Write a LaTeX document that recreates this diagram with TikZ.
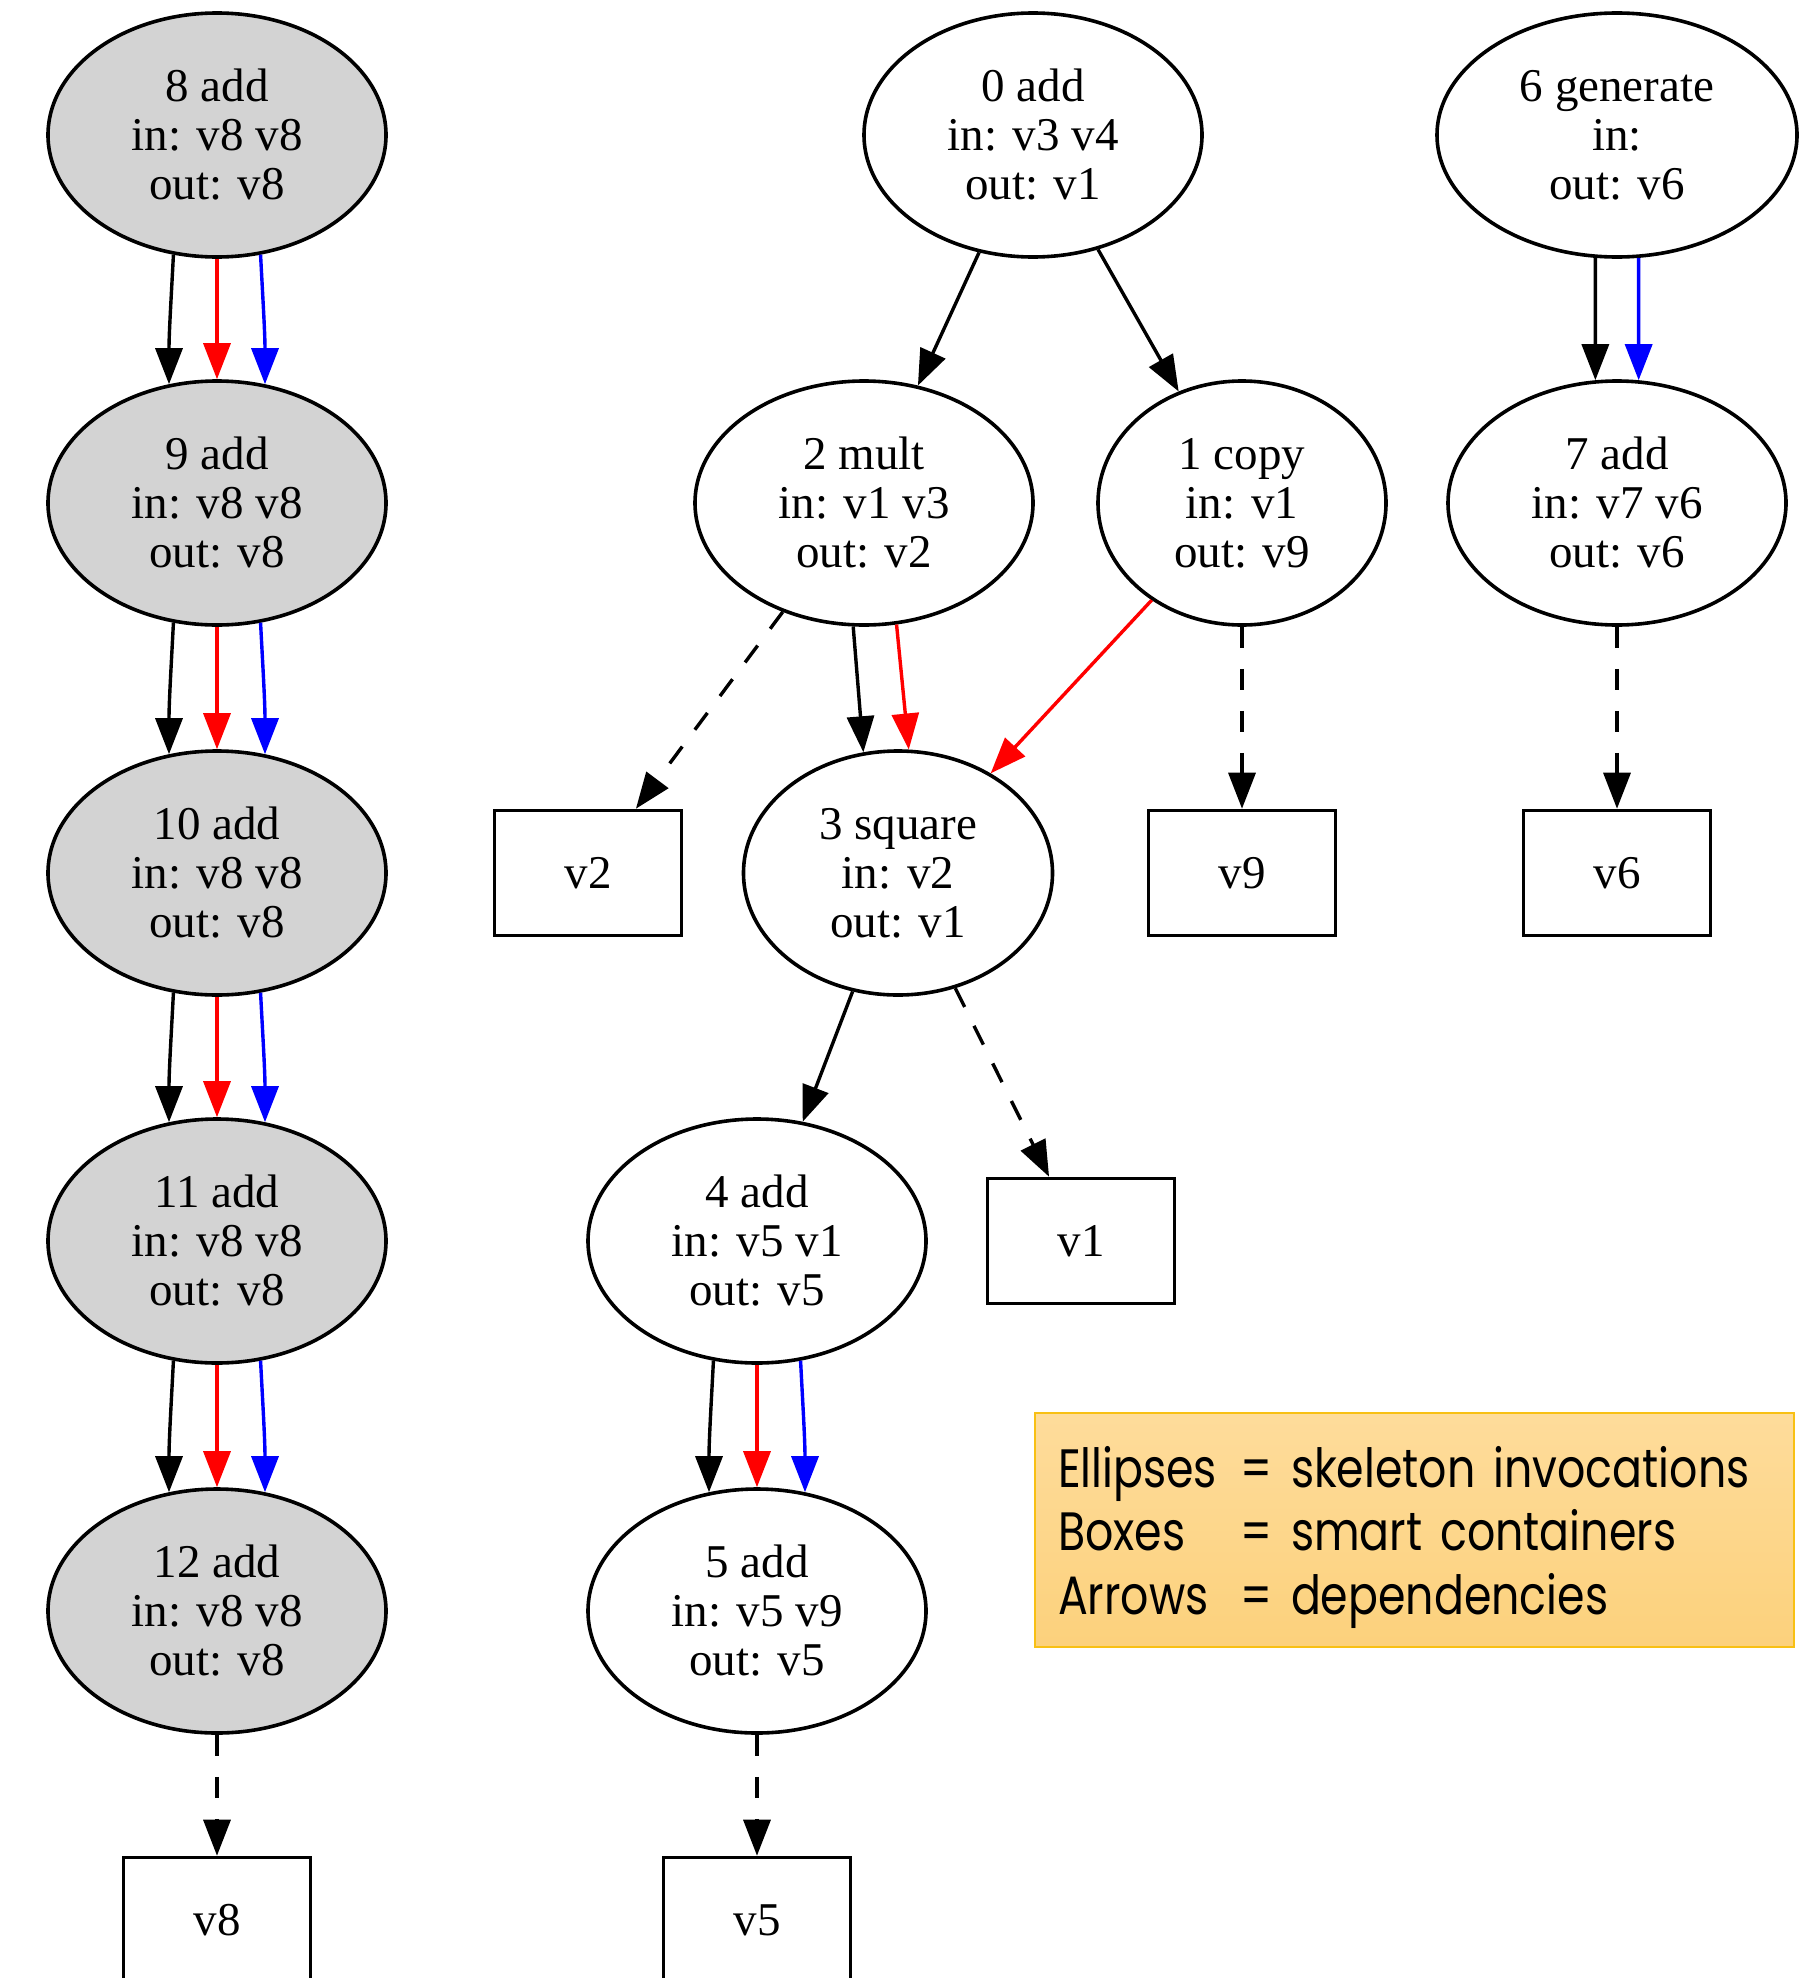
\documentclass[tikz,border=0pt]{standalone}
\usepackage{fontspec}
\setmainfont{Liberation Serif}
\newfontfamily\legendfont[FakeStretch=0.82,WordSpace=0.7]{Poppins}
\usetikzlibrary{shapes.geometric,arrows.meta}
\definecolor{gvgray}{RGB}{211,211,211}
\definecolor{legtop}{RGB}{254,220,155}
\definecolor{legbot}{RGB}{252,209,124}
\definecolor{legline}{RGB}{248,192,20}
\newcommand{\keyword}[1]{\makebox[183pt][l]{#1}}
\tikzset{
  inv/.style={draw,ellipse,line width=3.6pt,inner sep=0pt,minimum width=338pt,minimum height=244pt,align=center,font=\fontsize{47}{49}\selectfont},
  invgray/.style={inv,fill=gvgray},
  cont/.style={draw,rectangle,line width=3.6pt,inner sep=0pt,minimum width=187pt,minimum height=125pt,font=\fontsize{47}{49}\selectfont},
  dep/.style={line width=3.4pt,-{Triangle[length=36pt,width=27pt]}},
  store/.style={dep,dash pattern=on 21pt off 21pt},
  legend/.style={draw=legline,line width=2.5pt,top color=legtop,bottom color=legbot,rectangle,inner xsep=23pt,inner ysep=0pt,text width=713pt,minimum height=234pt,align=left,font=\legendfont\fontsize{54}{63.5}\selectfont}
}
\begin{document}
\begin{tikzpicture}[x=1pt,y=-1pt]
    \useasboundingbox (0,0) rectangle (1808,1978);
    \node[invgray] (n8) at (217,135) {8 add\\in: v8 v8\\out: v8};
    \node[invgray] (n9) at (217,503) {9 add\\in: v8 v8\\out: v8};
    \node[invgray] (n10) at (217,873) {10 add\\in: v8 v8\\out: v8};
    \node[invgray] (n11) at (217,1241) {11 add\\in: v8 v8\\out: v8};
    \node[invgray] (n12) at (217,1611) {12 add\\in: v8 v8\\out: v8};
    \node[cont] (bv8) at (217,1920) {v8};
    \node[inv] (n0) at (1033,135) {0 add\\in: v3 v4\\out: v1};
    \node[inv,minimum width=360pt] (n6) at (1617,135) {6 generate\\in:\\out: v6};
    \node[inv] (n2) at (864,503) {2 mult\\in: v1 v3\\out: v2};
    \node[inv,minimum width=288pt] (n1) at (1242,503) {1 copy\\in: v1\\out: v9};
    \node[inv] (n7) at (1617,503) {7 add\\in: v7 v6\\out: v6};
    \node[cont] (bv2) at (588,873) {v2};
    \node[inv,minimum width=309pt] (n3) at (898,873) {3 square\\in: v2\\out: v1};
    \node[cont] (bv9) at (1242,873) {v9};
    \node[cont] (bv6) at (1617,873) {v6};
    \node[inv] (n4) at (757,1241) {4 add\\in: v5 v1\\out: v5};
    \node[cont] (bv1) at (1081,1241) {v1};
    \node[inv] (n5) at (757,1611) {5 add\\in: v5 v9\\out: v5};
    \node[cont] (bv5) at (757,1920) {v5};
    \node[legend] (key) at (1414.5,1530) {\raisebox{-8pt}[\height][\depth]{\begin{tabular}{@{}l@{}l@{}}\keyword{Ellipses} & = skeleton invocations\\\keyword{Boxes} & = smart containers\\\keyword{Arrows} & = dependencies\end{tabular}}};
    \foreach \a/\b in {n8/n9,n9/n10,n10/n11,n11/n12,n4/n5} {
      \draw[dep] (\a.-110) to[out=-93,in=90] (\b.112);
      \draw[dep,red] (\a.south) -- (\b.north);
      \draw[dep,blue] (\a.-70) to[out=-87,in=90] (\b.68);
    }
    \draw[dep] (n0) -- (n2);
    \draw[dep] (n0) -- (n1);
    \draw[dep] (n6.-100) -- (n7.100);
    \draw[dep,blue] (n6.-80) -- (n7.80);
    \draw[dep] (n2.-95) -- (n3.106);
    \draw[dep,red] (n2.-75) -- (n3.85);
    \draw[dep,red] (n1) -- (n3);
    \draw[dep] (n3) -- (n4);
    \draw[store] (n2) -- (bv2);
    \draw[store] (n1) -- (bv9);
    \draw[store] (n7) -- (bv6);
    \draw[store] (n3) -- (bv1);
    \draw[store] (n12) -- (bv8);
    \draw[store] (n5) -- (bv5);
\end{tikzpicture}
\end{document}
